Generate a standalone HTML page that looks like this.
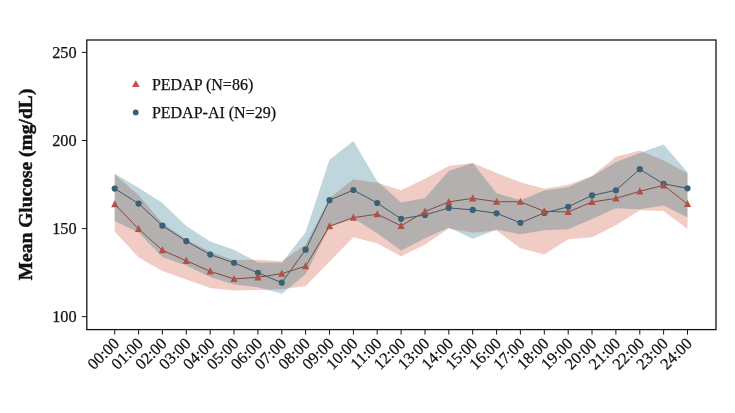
<!DOCTYPE html>
<html><head><meta charset="utf-8"><title>Mean Glucose</title>
<style>html,body{margin:0;padding:0;background:#fff;}svg{display:block}text{font-family:"Liberation Serif","Times New Roman",serif;fill:#111;stroke:#111;stroke-width:0.25px}</style></head><body>
<svg width="735" height="413" viewBox="0 0 735 413">
<rect width="735" height="413" fill="#fff"/>
<polygon points="114.7,174.3 138.6,195.2 162.4,223.0 186.3,239.5 210.2,251.8 234.0,260.3 257.9,259.7 281.8,261.2 305.6,244.5 329.5,198.2 353.4,179.3 377.2,182.7 401.1,190.3 425.0,178.8 448.8,166.1 472.7,163.1 496.6,173.1 520.4,182.2 544.3,188.8 568.2,184.7 592.0,175.9 615.9,156.8 639.8,150.5 663.6,160.4 687.5,173.2 687.5,229.0 663.6,211.0 639.8,210.2 615.9,225.2 592.0,237.3 568.2,239.3 544.3,254.4 520.4,248.3 496.6,230.6 472.7,232.7 448.8,228.6 425.0,244.5 401.1,256.4 377.2,243.3 353.4,237.3 329.5,261.5 305.6,286.0 281.8,289.3 257.9,290.0 234.0,290.5 210.2,288.0 186.3,279.5 162.4,271.0 138.6,257.4 114.7,231.5" fill="#F0CCC4"/>
<polygon points="114.7,173.7 138.6,187.7 162.4,202.9 186.3,226.0 210.2,241.5 234.0,249.8 257.9,262.5 281.8,262.8 305.6,232.3 329.5,159.8 353.4,141.1 377.2,181.3 401.1,202.4 425.0,198.0 448.8,171.1 472.7,163.1 496.6,193.2 520.4,200.3 544.3,190.4 568.2,187.2 592.0,176.5 615.9,162.0 639.8,153.0 663.6,144.5 687.5,172.2 687.5,217.6 663.6,205.4 639.8,209.3 615.9,208.2 592.0,219.0 568.2,229.3 544.3,230.2 520.4,234.2 496.6,229.6 472.7,238.8 448.8,227.6 425.0,238.3 401.1,250.4 377.2,233.3 353.4,218.2 329.5,227.0 305.6,274.2 281.8,293.8 257.9,287.2 234.0,284.5 210.2,277.0 186.3,265.4 162.4,256.9 138.6,232.4 114.7,220.9" fill="rgba(0,91,115,0.25)"/>
<polyline points="114.7,188.6 138.6,203.6 162.4,225.7 186.3,241.2 210.2,254.6 234.0,262.8 257.9,272.8 281.8,282.7 305.6,249.7 329.5,200.2 353.4,190.0 377.2,203.0 401.1,218.8 425.0,215.0 448.8,207.9 472.7,209.9 496.6,213.3 520.4,222.8 544.3,212.9 568.2,206.8 592.0,195.4 615.9,190.3 639.8,169.2 663.6,183.9 687.5,188.3" fill="none" stroke="#42586A" stroke-width="1"/>
<circle cx="114.7" cy="188.6" r="3.1" fill="#3A6178"/>
<circle cx="138.6" cy="203.6" r="3.1" fill="#3A6178"/>
<circle cx="162.4" cy="225.7" r="3.1" fill="#3A6178"/>
<circle cx="186.3" cy="241.2" r="3.1" fill="#3A6178"/>
<circle cx="210.2" cy="254.6" r="3.1" fill="#3A6178"/>
<circle cx="234.0" cy="262.8" r="3.1" fill="#3A6178"/>
<circle cx="257.9" cy="272.8" r="3.1" fill="#3A6178"/>
<circle cx="281.8" cy="282.7" r="3.1" fill="#3A6178"/>
<circle cx="305.6" cy="249.7" r="3.1" fill="#3A6178"/>
<circle cx="329.5" cy="200.2" r="3.1" fill="#3A6178"/>
<circle cx="353.4" cy="190.0" r="3.1" fill="#3A6178"/>
<circle cx="377.2" cy="203.0" r="3.1" fill="#3A6178"/>
<circle cx="401.1" cy="218.8" r="3.1" fill="#3A6178"/>
<circle cx="425.0" cy="215.0" r="3.1" fill="#3A6178"/>
<circle cx="448.8" cy="207.9" r="3.1" fill="#3A6178"/>
<circle cx="472.7" cy="209.9" r="3.1" fill="#3A6178"/>
<circle cx="496.6" cy="213.3" r="3.1" fill="#3A6178"/>
<circle cx="520.4" cy="222.8" r="3.1" fill="#3A6178"/>
<circle cx="544.3" cy="212.9" r="3.1" fill="#3A6178"/>
<circle cx="568.2" cy="206.8" r="3.1" fill="#3A6178"/>
<circle cx="592.0" cy="195.4" r="3.1" fill="#3A6178"/>
<circle cx="615.9" cy="190.3" r="3.1" fill="#3A6178"/>
<circle cx="639.8" cy="169.2" r="3.1" fill="#3A6178"/>
<circle cx="663.6" cy="183.9" r="3.1" fill="#3A6178"/>
<circle cx="687.5" cy="188.3" r="3.1" fill="#3A6178"/>
<polyline points="114.7,204.2 138.6,229.0 162.4,250.2 186.3,260.8 210.2,271.3 234.0,278.9 257.9,277.3 281.8,273.6 305.6,266.2 329.5,226.2 353.4,217.6 377.2,214.2 401.1,225.8 425.0,211.5 448.8,201.9 472.7,198.3 496.6,201.7 520.4,201.7 544.3,211.3 568.2,212.0 592.0,202.0 615.9,198.4 639.8,191.3 663.6,185.3 687.5,204.0" fill="none" stroke="#84493F" stroke-width="1"/>
<polygon points="114.7,200.2 118.3,207.3 111.1,207.3" fill="#AF5243"/>
<polygon points="138.6,225.0 142.2,232.1 135.0,232.1" fill="#AF5243"/>
<polygon points="162.4,246.2 166.0,253.3 158.8,253.3" fill="#AF5243"/>
<polygon points="186.3,256.8 189.9,263.9 182.7,263.9" fill="#AF5243"/>
<polygon points="210.2,267.3 213.8,274.4 206.6,274.4" fill="#AF5243"/>
<polygon points="234.0,274.9 237.6,282.0 230.4,282.0" fill="#AF5243"/>
<polygon points="257.9,273.3 261.5,280.4 254.3,280.4" fill="#AF5243"/>
<polygon points="281.8,269.6 285.4,276.7 278.2,276.7" fill="#AF5243"/>
<polygon points="305.6,262.2 309.2,269.3 302.0,269.3" fill="#AF5243"/>
<polygon points="329.5,222.2 333.1,229.3 325.9,229.3" fill="#AF5243"/>
<polygon points="353.4,213.6 357.0,220.7 349.8,220.7" fill="#AF5243"/>
<polygon points="377.2,210.2 380.8,217.3 373.6,217.3" fill="#AF5243"/>
<polygon points="401.1,221.8 404.7,228.9 397.5,228.9" fill="#AF5243"/>
<polygon points="425.0,207.5 428.6,214.6 421.4,214.6" fill="#AF5243"/>
<polygon points="448.8,197.9 452.4,205.0 445.2,205.0" fill="#AF5243"/>
<polygon points="472.7,194.3 476.3,201.4 469.1,201.4" fill="#AF5243"/>
<polygon points="496.6,197.7 500.2,204.8 493.0,204.8" fill="#AF5243"/>
<polygon points="520.4,197.7 524.0,204.8 516.8,204.8" fill="#AF5243"/>
<polygon points="544.3,207.3 547.9,214.4 540.7,214.4" fill="#AF5243"/>
<polygon points="568.2,208.0 571.8,215.1 564.6,215.1" fill="#AF5243"/>
<polygon points="592.0,198.0 595.6,205.1 588.4,205.1" fill="#AF5243"/>
<polygon points="615.9,194.4 619.5,201.5 612.3,201.5" fill="#AF5243"/>
<polygon points="639.8,187.3 643.4,194.4 636.2,194.4" fill="#AF5243"/>
<polygon points="663.6,181.3 667.2,188.4 660.0,188.4" fill="#AF5243"/>
<polygon points="687.5,200.0 691.1,207.1 683.9,207.1" fill="#AF5243"/>
<rect x="86.8" y="40.0" width="629.2" height="289.6" fill="none" stroke="#151515" stroke-width="1.3"/>
<line x1="81.8" x2="86.8" y1="52.4" y2="52.4" stroke="#151515" stroke-width="1"/>
<text x="76.6" y="57.8" font-size="16.3" text-anchor="end">250</text>
<line x1="81.8" x2="86.8" y1="140.5" y2="140.5" stroke="#151515" stroke-width="1"/>
<text x="76.6" y="145.9" font-size="16.3" text-anchor="end">200</text>
<line x1="81.8" x2="86.8" y1="228.6" y2="228.6" stroke="#151515" stroke-width="1"/>
<text x="76.6" y="234.0" font-size="16.3" text-anchor="end">150</text>
<line x1="81.8" x2="86.8" y1="316.7" y2="316.7" stroke="#151515" stroke-width="1"/>
<text x="76.6" y="322.09999999999997" font-size="16.3" text-anchor="end">100</text>
<line x1="114.7" x2="114.7" y1="329.6" y2="334.6" stroke="#151515" stroke-width="1"/>
<text transform="translate(112.4,336.6) rotate(-45)" font-size="16.3" text-anchor="end" dy="11">00:00</text>
<line x1="138.6" x2="138.6" y1="329.6" y2="334.6" stroke="#151515" stroke-width="1"/>
<text transform="translate(136.3,336.6) rotate(-45)" font-size="16.3" text-anchor="end" dy="11">01:00</text>
<line x1="162.4" x2="162.4" y1="329.6" y2="334.6" stroke="#151515" stroke-width="1"/>
<text transform="translate(160.1,336.6) rotate(-45)" font-size="16.3" text-anchor="end" dy="11">02:00</text>
<line x1="186.3" x2="186.3" y1="329.6" y2="334.6" stroke="#151515" stroke-width="1"/>
<text transform="translate(184.0,336.6) rotate(-45)" font-size="16.3" text-anchor="end" dy="11">03:00</text>
<line x1="210.2" x2="210.2" y1="329.6" y2="334.6" stroke="#151515" stroke-width="1"/>
<text transform="translate(207.9,336.6) rotate(-45)" font-size="16.3" text-anchor="end" dy="11">04:00</text>
<line x1="234.0" x2="234.0" y1="329.6" y2="334.6" stroke="#151515" stroke-width="1"/>
<text transform="translate(231.7,336.6) rotate(-45)" font-size="16.3" text-anchor="end" dy="11">05:00</text>
<line x1="257.9" x2="257.9" y1="329.6" y2="334.6" stroke="#151515" stroke-width="1"/>
<text transform="translate(255.6,336.6) rotate(-45)" font-size="16.3" text-anchor="end" dy="11">06:00</text>
<line x1="281.8" x2="281.8" y1="329.6" y2="334.6" stroke="#151515" stroke-width="1"/>
<text transform="translate(279.5,336.6) rotate(-45)" font-size="16.3" text-anchor="end" dy="11">07:00</text>
<line x1="305.6" x2="305.6" y1="329.6" y2="334.6" stroke="#151515" stroke-width="1"/>
<text transform="translate(303.3,336.6) rotate(-45)" font-size="16.3" text-anchor="end" dy="11">08:00</text>
<line x1="329.5" x2="329.5" y1="329.6" y2="334.6" stroke="#151515" stroke-width="1"/>
<text transform="translate(327.2,336.6) rotate(-45)" font-size="16.3" text-anchor="end" dy="11">09:00</text>
<line x1="353.4" x2="353.4" y1="329.6" y2="334.6" stroke="#151515" stroke-width="1"/>
<text transform="translate(351.1,336.6) rotate(-45)" font-size="16.3" text-anchor="end" dy="11">10:00</text>
<line x1="377.2" x2="377.2" y1="329.6" y2="334.6" stroke="#151515" stroke-width="1"/>
<text transform="translate(374.9,336.6) rotate(-45)" font-size="16.3" text-anchor="end" dy="11">11:00</text>
<line x1="401.1" x2="401.1" y1="329.6" y2="334.6" stroke="#151515" stroke-width="1"/>
<text transform="translate(398.8,336.6) rotate(-45)" font-size="16.3" text-anchor="end" dy="11">12:00</text>
<line x1="425.0" x2="425.0" y1="329.6" y2="334.6" stroke="#151515" stroke-width="1"/>
<text transform="translate(422.7,336.6) rotate(-45)" font-size="16.3" text-anchor="end" dy="11">13:00</text>
<line x1="448.8" x2="448.8" y1="329.6" y2="334.6" stroke="#151515" stroke-width="1"/>
<text transform="translate(446.5,336.6) rotate(-45)" font-size="16.3" text-anchor="end" dy="11">14:00</text>
<line x1="472.7" x2="472.7" y1="329.6" y2="334.6" stroke="#151515" stroke-width="1"/>
<text transform="translate(470.4,336.6) rotate(-45)" font-size="16.3" text-anchor="end" dy="11">15:00</text>
<line x1="496.6" x2="496.6" y1="329.6" y2="334.6" stroke="#151515" stroke-width="1"/>
<text transform="translate(494.3,336.6) rotate(-45)" font-size="16.3" text-anchor="end" dy="11">16:00</text>
<line x1="520.4" x2="520.4" y1="329.6" y2="334.6" stroke="#151515" stroke-width="1"/>
<text transform="translate(518.1,336.6) rotate(-45)" font-size="16.3" text-anchor="end" dy="11">17:00</text>
<line x1="544.3" x2="544.3" y1="329.6" y2="334.6" stroke="#151515" stroke-width="1"/>
<text transform="translate(542.0,336.6) rotate(-45)" font-size="16.3" text-anchor="end" dy="11">18:00</text>
<line x1="568.2" x2="568.2" y1="329.6" y2="334.6" stroke="#151515" stroke-width="1"/>
<text transform="translate(565.9,336.6) rotate(-45)" font-size="16.3" text-anchor="end" dy="11">19:00</text>
<line x1="592.0" x2="592.0" y1="329.6" y2="334.6" stroke="#151515" stroke-width="1"/>
<text transform="translate(589.7,336.6) rotate(-45)" font-size="16.3" text-anchor="end" dy="11">20:00</text>
<line x1="615.9" x2="615.9" y1="329.6" y2="334.6" stroke="#151515" stroke-width="1"/>
<text transform="translate(613.6,336.6) rotate(-45)" font-size="16.3" text-anchor="end" dy="11">21:00</text>
<line x1="639.8" x2="639.8" y1="329.6" y2="334.6" stroke="#151515" stroke-width="1"/>
<text transform="translate(637.5,336.6) rotate(-45)" font-size="16.3" text-anchor="end" dy="11">22:00</text>
<line x1="663.6" x2="663.6" y1="329.6" y2="334.6" stroke="#151515" stroke-width="1"/>
<text transform="translate(661.3,336.6) rotate(-45)" font-size="16.3" text-anchor="end" dy="11">23:00</text>
<line x1="687.5" x2="687.5" y1="329.6" y2="334.6" stroke="#151515" stroke-width="1"/>
<text transform="translate(685.2,336.6) rotate(-45)" font-size="16.3" text-anchor="end" dy="11">24:00</text>
<text transform="translate(31.6,184.5) rotate(-90)" font-size="19.5" font-weight="bold" style="stroke-width:0.45px" text-anchor="middle">Mean Glucose (mg/dL)</text>
<polygon points="135.8,80.2 139.7,86.9 131.9,86.9" fill="#C4524A"/>
<circle cx="135.7" cy="112.4" r="2.9" fill="#366078"/>
<text x="151.9" y="89.8" font-size="16">PEDAP (N=86)</text>
<text x="151.9" y="118.0" font-size="16">PEDAP-AI (N=29)</text>
</svg></body></html>
